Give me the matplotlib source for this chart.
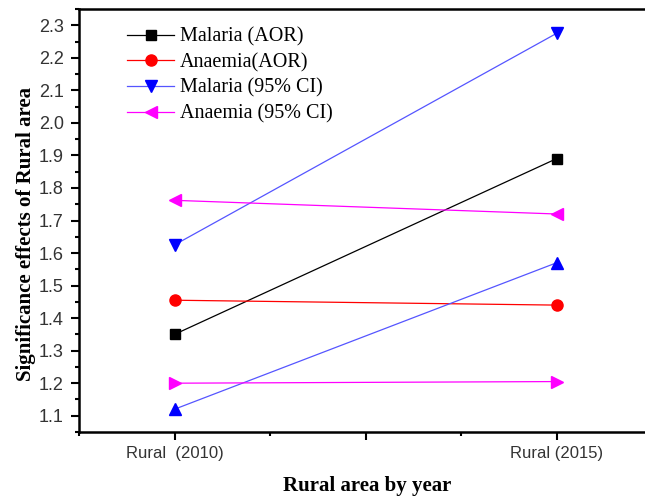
import matplotlib
matplotlib.use('Agg')
import matplotlib.pyplot as plt
from matplotlib.ticker import MultipleLocator

# data
years = ['Rural  (2010)', 'Rural (2015)']
xpos = [1, 3]
malaria_aor = [1.35, 1.89]
anaemia_aor = [1.455, 1.44]
malaria_ci_up = [1.625, 2.275]
malaria_ci_low = [1.12, 1.57]
anaemia_ci_up = [1.762, 1.72]
anaemia_ci_low = [1.20, 1.205]

fig = plt.figure(figsize=(6.45, 4.97), dpi=100)
ax = fig.add_axes([79/645, 1-432/497, 573/645, 423/497])

ax.plot(xpos, malaria_aor, '-s', color='black', lw=0.9, ms=7, label='Malaria (AOR)')
ax.plot(xpos, anaemia_aor, '-o', color='red', lw=0.9, ms=8, label='Anaemia(AOR)')
ax.plot(xpos, malaria_ci_up, '-v', color='#5555ff', mfc='blue', mec='blue', lw=0.9, ms=8,
        label='Malaria (95% CI)')
ax.plot(xpos, malaria_ci_low, '-^', color='#5555ff', mfc='blue', mec='blue', lw=0.9, ms=8)
ax.plot(xpos, anaemia_ci_up, '-<', color='magenta', lw=0.9, ms=8, label='Anaemia (95% CI)')
ax.plot(xpos, anaemia_ci_low, '->', color='magenta', lw=0.9, ms=8)

ax.set_xlim(0.5, 3.5)
ax.set_ylim(1.05, 2.35)
ax.set_xticks([1, 2, 3])
ax.set_xticklabels([years[0], '', years[1]])
ax.xaxis.set_minor_locator(MultipleLocator(0.5))
ax.yaxis.set_major_locator(MultipleLocator(0.1))
ax.yaxis.set_minor_locator(MultipleLocator(0.05))
ax.tick_params(which='major', direction='out', length=6, width=1.5,
               labelcolor='#333333', pad=5)
ax.tick_params(which='minor', direction='out', length=3, width=1.5)
ax.tick_params(axis='y', labelsize=13)
ax.tick_params(axis='x', labelsize=12, pad=4)
for lab in ax.get_xticklabels() + ax.get_yticklabels():
    lab.set_family('Liberation Sans')
for s in ax.spines.values():
    s.set_linewidth(1.8)

ax.set_xlabel('Rural area by year', family='Liberation Serif', fontweight='bold',
              fontsize=15)
ax.xaxis.set_label_coords((367 - 79) / 573, -(476 - 432) / 423)
ax.set_ylabel('Significance effects of Rural area', family='Liberation Serif',
              fontweight='bold', fontsize=15)
ax.yaxis.set_label_coords(-(79 - 36) / 573, (432 - 234) / 423)

ax.legend(loc='upper left', bbox_to_anchor=(0.06, 0.99), frameon=False,
          prop={'family': 'Liberation Serif', 'size': 14.5}, handlelength=2.3,
          handletextpad=0.3, labelspacing=0.32, borderaxespad=0.3)

fig.savefig('out.png', dpi=100)
